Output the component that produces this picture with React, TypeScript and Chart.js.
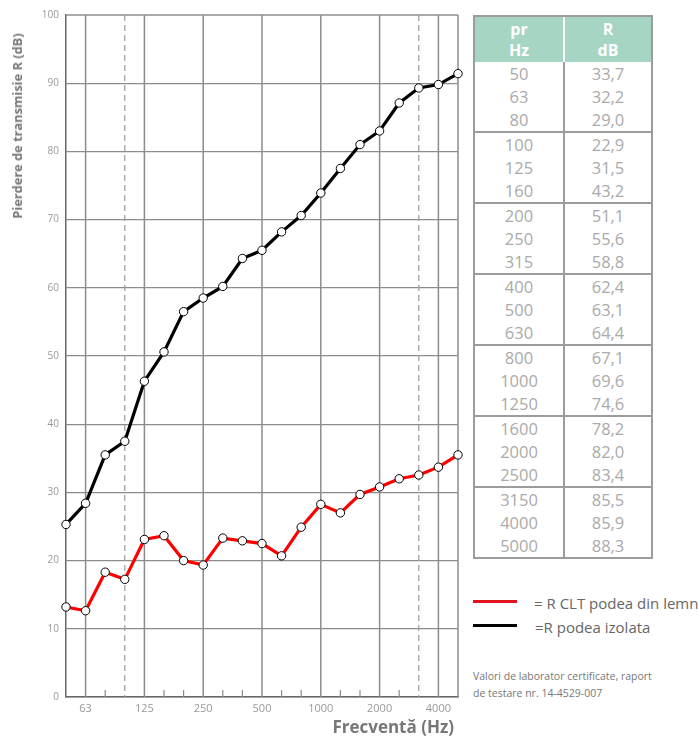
import React, { useEffect, useRef } from "react";
import { Chart, registerables } from "chart.js";

Chart.register(...registerables);

const frequencies = ["50", "63", "80", "100", "125", "160", "200", "250", "315", "400", "500", "630", "800", "1000", "1250", "1600", "2000", "2500", "3150", "4000", "5000"];
const shownTicks = ["63", "125", "250", "500", "1000", "2000", "4000"];
const dashedTicks = ["100", "3150"];

const redSeries = [13.2, 12.65, 18.3, 17.25, 23.1, 23.65, 20.0, 19.35, 23.3, 22.9, 22.5, 20.7, 24.9, 28.25, 27.0, 29.7, 30.8, 32.0, 32.55, 33.7, 35.5];
const blackSeries = [25.3, 28.4, 35.5, 37.5, 46.3, 50.6, 56.5, 58.5, 60.2, 64.3, 65.5, 68.2, 70.6, 73.9, 77.5, 81.0, 83.0, 87.1, 89.3, 89.8, 91.4];

const tableFreq = ["50", "63", "80", "100", "125", "160", "200", "250", "315", "400", "500", "630", "800", "1000", "1250", "1600", "2000", "2500", "3150", "4000", "5000"];
const tableR = ["33,7", "32,2", "29,0", "22,9", "31,5", "43,2", "51,1", "55,6", "58,8", "62,4", "63,1", "64,4", "67,1", "69,6", "74,6", "78,2", "82,0", "83,4", "85,5", "85,9", "88,3"];

const redLabel = "= R CLT podea din lemn";
const blackLabel = "=R podea izolata";
const yTitle = "Pierdere de transmisie R (dB)";
const xTitle = "Frecventă (Hz)";
const noteLines = ["Valori de laborator certificate, raport", "de testare nr. 14-4529-007"];

const FONT = "'Open Sans', 'Noto Sans', sans-serif";

const verticalLines = {
  id: "verticalLines",
  beforeDatasetsDraw(chart: any) {
    const { ctx, chartArea, scales } = chart;
    const xs = scales.x;
    ctx.save();
    frequencies.forEach((f, i) => {
      const x = xs.getPixelForValue(i);
      if (i === 0) return;
      ctx.beginPath();
      if (shownTicks.includes(f) || i === frequencies.length - 1) {
        ctx.setLineDash([]);
        ctx.strokeStyle = "#8c8c8c";
        ctx.lineWidth = 1.5;
        ctx.moveTo(x, chartArea.top);
        ctx.lineTo(x, chartArea.bottom);
      } else if (dashedTicks.includes(f)) {
        ctx.setLineDash([6, 4]);
        ctx.strokeStyle = "#9a9a9a";
        ctx.lineWidth = 1.2;
        ctx.moveTo(x, chartArea.top);
        ctx.lineTo(x, chartArea.bottom);
      } else {
        ctx.setLineDash([]);
        ctx.strokeStyle = "#8c8c8c";
        ctx.lineWidth = 1.2;
        ctx.moveTo(x, chartArea.bottom - 7);
        ctx.lineTo(x, chartArea.bottom);
      }
      ctx.stroke();
    });
    ctx.restore();
  },
};

function ChartCanvas() {
  const ref = useRef<HTMLCanvasElement>(null);
  useEffect(() => {
    if (!ref.current) return;
    const chart = new Chart(ref.current, {
      type: "line",
      data: {
        labels: frequencies,
        datasets: [
          {
            label: "izolata",
            data: blackSeries,
            borderColor: "#000000",
            borderWidth: 3.2,
            pointRadius: 4.2,
            pointBackgroundColor: "#ffffff",
            pointBorderColor: "#000000",
            pointBorderWidth: 1,
            tension: 0,
            clip: false as any,
          },
          {
            label: "CLT",
            data: redSeries,
            borderColor: "#ff0000",
            borderWidth: 3.2,
            pointRadius: 4.2,
            pointBackgroundColor: "#ffffff",
            pointBorderColor: "#000000",
            pointBorderWidth: 1,
            tension: 0,
            clip: false as any,
          },
        ],
      },
      options: {
        animation: false,
        responsive: false,
        devicePixelRatio: 1,
        layout: { padding: { top: 15, right: 12, left: 0, bottom: 0 } },
        plugins: { legend: { display: false }, tooltip: { enabled: false } },
        scales: {
          x: {
            type: "category",
            offset: false,
            grid: { display: false, drawTicks: false },
            border: { display: true, color: "#666666", width: 1.5 },
            ticks: {
              autoSkip: false,
              maxRotation: 0,
              padding: 5,
              color: "#999999",
              font: { family: FONT, size: 11 },
              callback: (v: any, i: number) => (shownTicks.includes(frequencies[i]) ? frequencies[i] : ""),
            },
            title: { display: false },
            afterFit: (s: any) => {
              s.height = 41;
            },
          } as any,
          y: {
            min: 0,
            max: 100,
            ticks: {
              stepSize: 10,
              padding: 7,
              color: "#999999",
              font: { family: FONT, size: 10 },
            },
            grid: {
              drawTicks: false,
              color: (c: any) => (c.tick && c.tick.value === 100 ? "#aaaaaa" : "#8c8c8c"),
              lineWidth: (c: any) => (c.tick && c.tick.value === 100 ? 2 : 1.2),
            },
            border: { display: true, color: "#666666", width: 1.5 },
            title: { display: false },
            afterFit: (s: any) => {
              s.width = 66;
            },
          } as any,
        },
      },
      plugins: [verticalLines],
    });
    return () => chart.destroy();
  }, []);
  return <canvas ref={ref} width={470} height={738} style={{ position: "absolute", left: 0, top: 0, width: 470, height: 738 }} />;
}

function AxisTitles() {
  return (
    <>
      <div
        style={{
          position: "absolute",
          left: 17,
          top: 126,
          transform: "translate(-50%, -50%) rotate(-90deg)",
          whiteSpace: "nowrap",
          fontFamily: FONT,
          fontWeight: "bold",
          fontSize: 12.8,
          color: "#777777",
          lineHeight: "16px",
        }}
      >
        {yTitle}
      </div>
      <div
        style={{
          position: "absolute",
          right: 699 - 454,
          top: 716,
          whiteSpace: "nowrap",
          fontFamily: FONT,
          fontWeight: "bold",
          fontSize: 17,
          color: "#777777",
          lineHeight: "22px",
        }}
      >
        {xTitle}
      </div>
    </>
  );
}

function DataTable() {
  const groups: number[][] = [];
  for (let g = 0; g < 7; g++) groups.push([g * 3, g * 3 + 1, g * 3 + 2]);
  const cellText: React.CSSProperties = {
    fontFamily: FONT,
    fontSize: 16.5,
    color: "#aaaaaa",
    textAlign: "center",
    lineHeight: "23px",
    height: 23,
  };
  return (
    <div
      style={{
        position: "absolute",
        left: 473,
        top: 15,
        width: 176,
        border: "2px solid #9c9c9c",
        background: "#fff",
      }}
    >
      <div style={{ display: "flex", height: 45, background: "#a6d5c4" }}>
        <div style={{ width: 88, borderRight: "2px solid #ffffff", color: "#fff", fontFamily: FONT, fontWeight: "bold", fontSize: 16, textAlign: "center", lineHeight: "21px", paddingTop: 2 }}>
          pr<br />Hz
        </div>
        <div style={{ flex: 1, color: "#fff", fontFamily: FONT, fontWeight: "bold", fontSize: 16, textAlign: "center", lineHeight: "21px", paddingTop: 2 }}>
          R<br />dB
        </div>
      </div>
      {groups.map((rows, gi) => (
        <div key={gi} style={{ display: "flex", borderTop: gi === 0 ? "none" : "2px solid #9c9c9c" }}>
          <div style={{ width: 88, borderRight: "2px solid #9c9c9c" }}>
            {rows.map((r) => (
              <div key={r} style={cellText}>{tableFreq[r]}</div>
            ))}
          </div>
          <div style={{ flex: 1 }}>
            {rows.map((r) => (
              <div key={r} style={cellText}>{tableR[r]}</div>
            ))}
          </div>
        </div>
      ))}
    </div>
  );
}

function Legend() {
  const txt: React.CSSProperties = { fontFamily: FONT, fontSize: 15, color: "#666666", position: "absolute", whiteSpace: "nowrap", lineHeight: "20px" };
  return (
    <>
      <div style={{ position: "absolute", left: 473, top: 600, width: 44, height: 3, background: "#e0141e" }} />
      <div style={{ ...txt, left: 534, top: 593 }}>{redLabel}</div>
      <div style={{ position: "absolute", left: 473, top: 624, width: 44, height: 3, background: "#000000" }} />
      <div style={{ ...txt, left: 535, top: 617 }}>{blackLabel}</div>
      <div style={{ position: "absolute", left: 473, top: 668, fontFamily: FONT, fontSize: 10.5, color: "#777777", lineHeight: "17px", whiteSpace: "nowrap" }}>
        {noteLines[0]}<br />{noteLines[1]}
      </div>
    </>
  );
}

export default function App() {
  return (
    <div style={{ position: "fixed", left: 0, top: 0, width: 699, height: 738, background: "#ffffff", overflow: "hidden" }}>
      <ChartCanvas />
      <AxisTitles />
      <DataTable />
      <Legend />
    </div>
  );
}
